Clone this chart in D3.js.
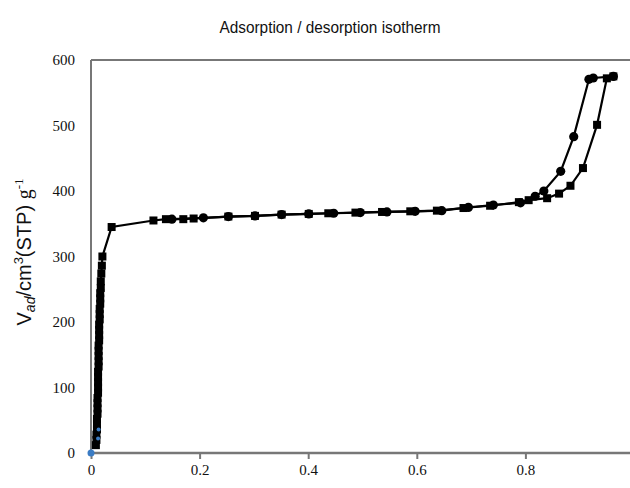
<!DOCTYPE html>
<html><head><meta charset="utf-8">
<script src="https://cdn.jsdelivr.net/npm/d3@7"></script>
<style>body{margin:0;background:#fff}svg{display:block}</style>
</head><body>
<svg id="c" width="630" height="488"></svg>
<script>
// Adsorption branch (squares)
const adsX = [0.009,0.010,0.010,0.011,0.011,0.011,0.012,0.012,0.012,0.012,0.013,0.013,0.013,0.013,0.013,0.014,0.014,0.014,0.014,0.014,0.015,0.015,0.015,0.015,0.016,0.016,0.016,0.017,0.017,0.017,0.018,0.018,0.019,0.020,0.021,
  0.038,0.115,0.138,0.170,0.189,0.253,0.302,0.351,0.401,0.437,0.487,0.536,0.588,0.637,0.686,0.735,0.788,0.806,0.840,0.862,0.883,0.906,0.932,0.950,0.962];
const adsY = [12,20,28,36,44,52,60,68,76,84,92,100,108,116,124,132,140,148,156,164,172,180,188,196,204,212,220,228,236,244,252,262,274,286,300,
  345,355,357,357,358,361,362,364,365,366,367,368,369,370,374,377.5,383,386,389,396,408,435,501,572,575];
// Desorption branch (circles)
const desX = [0.962,0.925,0.917,0.889,0.865,0.834,0.818,0.791,0.741,0.695,0.646,0.597,0.545,0.496,0.447,0.401,0.351,0.302,0.253,0.207,0.149];
const desY = [575,572.5,570.5,483,430,400,392,382,378.6,375,370,369,368,367,366,365,364,362,361,359,357];
// Low-pressure points (blue)
const lowX = [0, 0.013, 0.014];
const lowY = [0, 22, 36];
const xTicks = [0,0.2,0.4,0.6,0.8,1];
const yTicks = [0,100,200,300,400,500,600];

const svg = d3.select("#c");
const x = d3.scaleLinear().domain([0,1]).range([91,634]);
const y = d3.scaleLinear().domain([0,600]).range([453,60]);
const axisCol = "#777";
const serif = "'Liberation Serif', 'Times New Roman', 'DejaVu Serif', serif";

// frame lines
svg.append("line").attr("x1",x(0)).attr("x2",630).attr("y1",y(600)).attr("y2",y(600)).attr("stroke",axisCol).attr("stroke-width",2);
svg.append("line").attr("x1",x(0)).attr("x2",x(0)).attr("y1",y(600)).attr("y2",y(0)).attr("stroke",axisCol).attr("stroke-width",2);

const xAxis = svg.append("g").attr("transform",`translate(0,${y(0)})`)
  .call(d3.axisBottom(x).tickValues(xTicks).tickFormat(d=>d3.format("")(d)).tickSize(6).tickSizeOuter(0).tickPadding(5));
xAxis.attr("font-family",serif).attr("font-size",15);
xAxis.select(".domain").attr("stroke",axisCol).attr("stroke-width",2.5).attr("d",`M${x(0)},0H630`);
xAxis.selectAll(".tick line").attr("stroke",axisCol).attr("stroke-width",2);
xAxis.selectAll(".tick text").attr("fill","#111");

const yAxis = svg.append("g").attr("transform",`translate(${x(0)},0)`)
  .call(d3.axisLeft(y).tickValues(yTicks).tickSize(0).tickPadding(16));
yAxis.attr("font-family",serif).attr("font-size",15);
yAxis.select(".domain").remove();
yAxis.selectAll(".tick text").attr("fill","#111");

const ads = adsX.map((d,i)=>[d,adsY[i]]);
const des = desX.map((d,i)=>[d,desY[i]]);
const low = lowX.map((d,i)=>[d,lowY[i]]);
const line = d3.line().x(d=>x(d[0])).y(d=>y(d[1]));

svg.append("path").attr("d",line(ads)).attr("fill","none").attr("stroke","#000").attr("stroke-width",2.2);
svg.append("path").attr("d",line(des)).attr("fill","none").attr("stroke","#000").attr("stroke-width",2.2);

svg.append("g").selectAll("rect").data(ads).join("rect")
  .attr("x",d=>x(d[0])-4).attr("y",d=>y(d[1])-4).attr("width",8).attr("height",8).attr("fill","#000");
svg.append("g").selectAll("circle").data(des).join("circle")
  .attr("cx",d=>x(d[0])).attr("cy",d=>y(d[1])).attr("r",4.6).attr("fill","#000");
svg.append("g").selectAll("circle").data(low).join("circle")
  .attr("cx",d=>x(d[0])).attr("cy",d=>y(d[1])).attr("r",(d,i)=>i===0?3.5:2).attr("fill","#3b7cc4");

// title
svg.append("text").attr("x",330).attr("y",33).attr("text-anchor","middle")
  .attr("font-family","Liberation Sans Narrow, Liberation Sans, Arial, sans-serif").attr("font-size",16)
  .attr("textLength",221).attr("lengthAdjust","spacingAndGlyphs").attr("fill","#111")
  .text("Adsorption / desorption isotherm");

// y label
const yl = svg.append("text").attr("transform","translate(31,252) rotate(-90)").attr("text-anchor","middle")
  .attr("font-family","'Liberation Sans', Arial, sans-serif").attr("font-size",20).attr("fill","#111");
yl.append("tspan").text("V");
yl.append("tspan").attr("font-style","italic").attr("font-size",14).attr("dy",4).text("ad");
yl.append("tspan").attr("dy",-4).text("/cm");
yl.append("tspan").attr("font-size",13).attr("dy",-8).text("3");
yl.append("tspan").attr("dy",8).text("(STP) ");
yl.append("tspan").attr("font-family",serif).text("g");
yl.append("tspan").attr("font-family",serif).attr("font-size",13).attr("dy",-8).text("-1");
</script>
</body></html>
